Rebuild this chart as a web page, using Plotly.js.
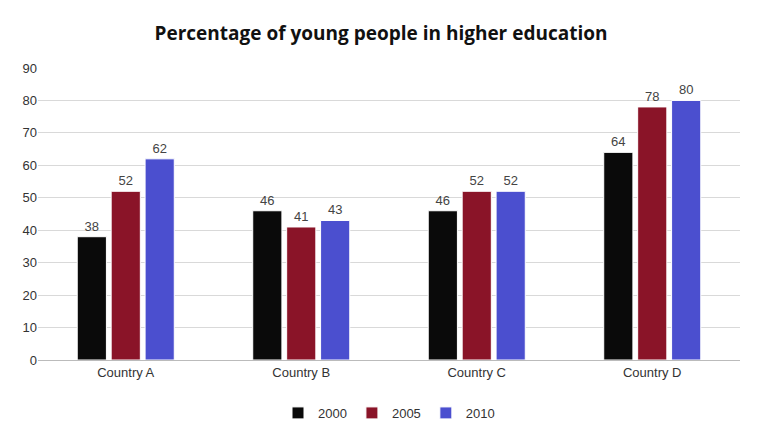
<!DOCTYPE html>
<html><head><script src="https://cdn.plot.ly/plotly-3.0.1.min.js"></script>
<style>body{margin:0;background:#fff}</style></head>
<body><div id="c" style="width:762px;height:440px"></div>
<script>
const categories = ["Country A","Country B","Country C","Country D"];
const years = ["2000","2005","2010"];
const v2000 = [38,46,46,64];
const v2005 = [52,41,52,78];
const v2010 = [62,43,52,80];
const colors = ["#0a0a0a","#8a1428","#4b4fcf"];
const series = [v2000,v2005,v2010];
const traces = series.map((s,i)=>({
  type:"bar", x:categories, y:s, name:years[i],
  marker:{color:colors[i], line:{color:"#ffffff",width:1}},
  text:s.map(String), textposition:"outside",
  textfont:{family:"Liberation Sans, Arial", size:13, color:"#444"},
  cliponaxis:false
}));
Plotly.newPlot("c", traces, {
  width:762, height:440,
  margin:{l:38,r:22,t:68,b:78},
  paper_bgcolor:"#fff", plot_bgcolor:"#fff",
  title:{text:"<b>Percentage of young people in higher education</b>", x:0.5, y:0.94,
    font:{family:"Open Sans, Arial", size:19, color:"#111"}},
  bargap:0.42, bargroupgap:0.14,
  xaxis:{tickfont:{family:"Liberation Sans, Arial", size:13, color:"#333"},
    showline:true, linecolor:"#bbb", ticks:""},
  yaxis:{range:[0,90], dtick:10, gridcolor:"#d9d9d9", zeroline:false,
    tickfont:{family:"Liberation Sans, Arial", size:13, color:"#333"}},
  legend:{orientation:"h", x:0.5, xanchor:"center", y:-0.13, yanchor:"top",
    font:{family:"Liberation Sans, Arial", size:13, color:"#333"}},
  showlegend:true
}, {displayModeBar:false});
</script></body></html>
